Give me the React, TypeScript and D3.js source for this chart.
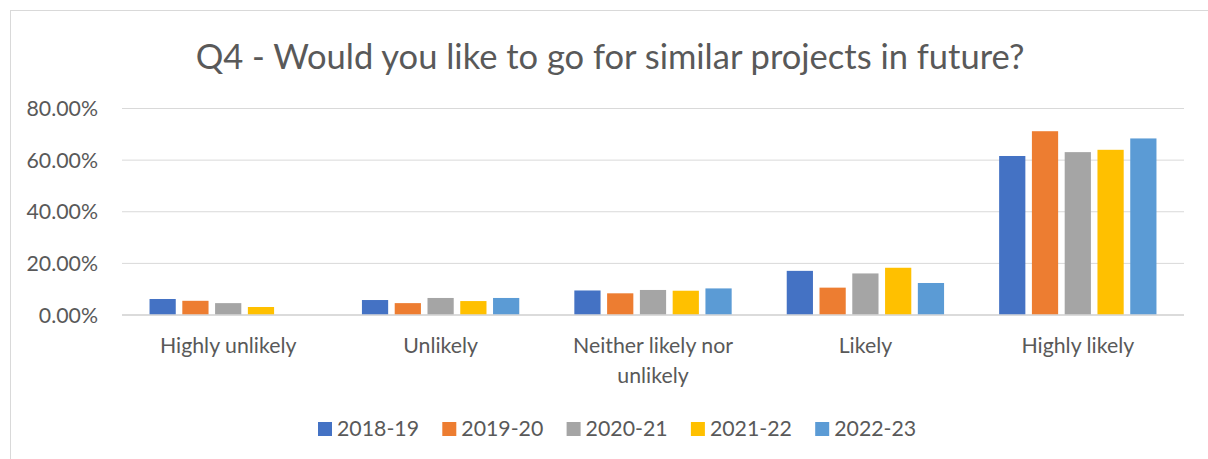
import { useEffect, useRef } from 'react';
import * as d3 from 'd3';

const categories = ['Highly unlikely', 'Unlikely', 'Neither likely nor unlikely', 'Likely', 'Highly likely'];
const seriesNames = ['2018-19', '2019-20', '2020-21', '2021-22', '2022-23'];
const seriesColors = ['#4472C4', '#ED7D31', '#A5A5A5', '#FFC000', '#5B9BD5'];

// values in %, one array per year, in category order
const v2018 = [6.2, 5.8, 9.5, 17.1, 61.6];
const v2019 = [5.5, 4.6, 8.4, 10.6, 71.2];
const v2020 = [4.6, 6.6, 9.7, 16.1, 63.1];
const v2021 = [3.1, 5.4, 9.4, 18.3, 64.0];
const v2022 = [0, 6.6, 10.3, 12.4, 68.4];
const seriesValues = [v2018, v2019, v2020, v2021, v2022];

const yTicks = [0, 20, 40, 60, 80];

const FONT = 'Lato, "Open Sans", sans-serif';
const TEXT = '#595959';
const LABEL_SIZE = 21.3;

export default function App() {
  const svgRef = useRef<SVGSVGElement>(null);

  useEffect(() => {
    document.body.style.margin = '0';
    if (!svgRef.current) return;
    const svg = d3.select(svgRef.current);
    svg.selectAll('*').remove();

    const width = 1208;
    const height = 459;
    const margin = { top: 108.5, right: 24, bottom: 144, left: 122 };

    // chart area border
    svg.append('rect')
      .attr('x', 10.5).attr('y', 10.5)
      .attr('width', width + 20).attr('height', height + 20)
      .attr('fill', '#fff')
      .attr('stroke', '#d9d9d9');

    const x0 = d3.scaleBand<string>()
      .domain(categories)
      .range([margin.left, width - margin.right])
      .padding(0);

    const x1 = d3.scaleBand<string>()
      .domain(seriesNames)
      .range([0, x0.bandwidth()])
      .paddingInner(0.2)
      .paddingOuter(0.84);

    const y = d3.scaleLinear()
      .domain([0, 80])
      .range([height - margin.bottom, margin.top]);

    // gridlines
    svg.append('g')
      .selectAll('line')
      .data(yTicks)
      .join('line')
      .attr('x1', margin.left)
      .attr('x2', width - margin.right)
      .attr('y1', d => y(d))
      .attr('y2', d => y(d))
      .attr('stroke', '#d9d9d9')
      .attr('stroke-width', d => (d === 0 ? 1.5 : 1));

    // y tick labels
    svg.append('g')
      .selectAll('text')
      .data(yTicks)
      .join('text')
      .attr('x', 98)
      .attr('y', d => y(d) + 7.5)
      .attr('text-anchor', 'end')
      .attr('font-family', FONT)
      .attr('font-size', LABEL_SIZE)
      .attr('fill', TEXT)
      .text(d => `${d.toFixed(2)}%`);

    // bars
    const groups = svg.append('g')
      .selectAll('g')
      .data(seriesNames)
      .join('g')
      .attr('fill', (_, i) => seriesColors[i]);

    groups.selectAll('rect')
      .data((s, i) => seriesValues[i].map((v, j) => ({ s, cat: categories[j], v })))
      .join('rect')
      .attr('x', d => (x0(d.cat) ?? 0) + (x1(d.s) ?? 0))
      .attr('y', d => y(d.v))
      .attr('width', x1.bandwidth())
      .attr('height', d => y(0) - y(d.v));

    // baseline on top of bars
    svg.append('line')
      .attr('x1', margin.left)
      .attr('x2', width - margin.right)
      .attr('y1', y(0))
      .attr('y2', y(0))
      .attr('stroke', '#d9d9d9')
      .attr('stroke-width', 1.5);

    // category labels (wrapped)
    const wrapped: Record<string, string[]> = {
      'Neither likely nor unlikely': ['Neither likely nor', 'unlikely'],
    };
    const catLabels = svg.append('g')
      .selectAll('text')
      .data(categories)
      .join('text')
      .attr('y', 353)
      .attr('text-anchor', 'middle')
      .attr('font-family', FONT)
      .attr('font-size', LABEL_SIZE)
      .attr('fill', TEXT);
    catLabels.selectAll('tspan')
      .data(d => (wrapped[d] ?? [d]).map((line, i) => ({ d, line, i })))
      .join('tspan')
      .attr('x', o => (x0(o.d) ?? 0) + x0.bandwidth() / 2)
      .attr('dy', o => (o.i === 0 ? 0 : 30))
      .text(o => o.line);

    // title
    svg.append('text')
      .attr('x', 610)
      .attr('y', 69)
      .attr('text-anchor', 'middle')
      .attr('font-family', FONT)
      .attr('font-size', 34.5)
      .attr('fill', TEXT)
      .text('Q4 - Would you like to go for similar projects in future?');

    // legend
    const legend = svg.append('g')
      .selectAll('g')
      .data(seriesNames)
      .join('g')
      .attr('transform', (_, i) => `translate(${318 + i * 124.3},422)`);
    legend.append('rect')
      .attr('width', 14)
      .attr('height', 14)
      .attr('fill', (_, i) => seriesColors[i]);
    legend.append('text')
      .attr('x', 19)
      .attr('y', 14)
      .attr('font-family', FONT)
      .attr('font-size', LABEL_SIZE)
      .attr('fill', TEXT)
      .text(d => d);
  }, []);

  return <svg ref={svgRef} width={1208} height={459} style={{ display: 'block' }} />;
}
